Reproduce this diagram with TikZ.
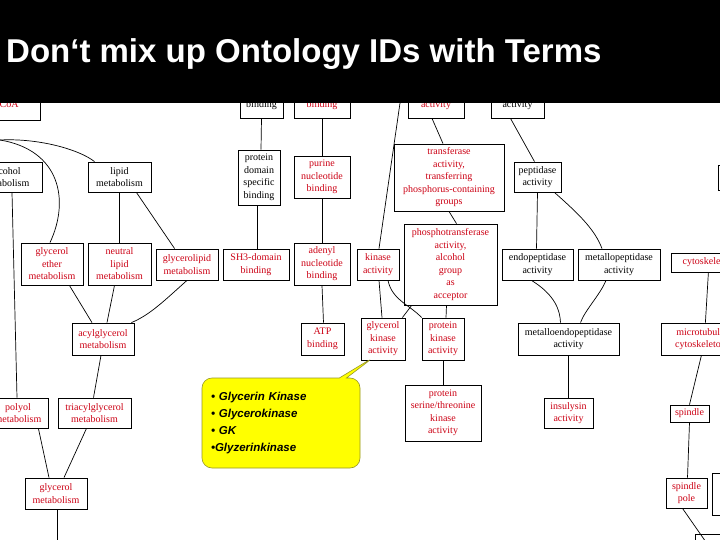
\documentclass[tikz,border=0pt]{standalone}
\usepackage{fontspec}
\setmainfont{Liberation Serif}
\newfontfamily\titlefont{Liberation Sans}
\usetikzlibrary{shapes.callouts}
\definecolor{gored}{RGB}{204,0,20}
\definecolor{callfill}{RGB}{255,255,0}
\definecolor{callline}{RGB}{150,150,40}
\tikzset{
  box/.style={draw=black, line width=0.8pt, inner sep=0pt, align=center,
    font=\fontsize{10}{12.5}\selectfont},
  edge/.style={draw=black, line width=0.7pt}
}
\newcommand\Bx[7]{%
  \node[box, text=#6, minimum width={(#4-#2)*1pt}, minimum height={(#5-#3)*1pt}]
    (#1) at ({(#2+#4)/2},{(#3+#5)/2}) {#7};}
\begin{document}
\begin{tikzpicture}[x=1pt,y=-1pt]
\useasboundingbox (0,0) rectangle (720,540);
\clip (0,0) rectangle (720,540);
\fill[white] (0,0) rectangle (720,540);
% top row (partly hidden)
\Bx{acoa}{-40}{80}{40}{120}{gored}{to\\etyl-CoA}
\Bx{bindA}{240}{92}{283}{118}{black}{binding}
\Bx{bindB}{294}{92}{350}{118}{gored}{binding}
\Bx{actA}{408}{92}{464}{118}{gored}{activity}
\Bx{actB}{491}{92}{544}{118}{black}{activity}
% second row
\Bx{alc}{-30}{162}{42}{192}{black}{alcohol\\metabolism}
\Bx{lipid}{88}{162}{151}{192}{black}{lipid\\metabolism}
\Bx{pdsb}{238}{150}{280}{205}{black}{protein\\domain\\specific\\binding}
\Bx{purine}{294}{156}{350}{198}{gored}{purine\\nucleotide\\binding}
\Bx{transf}{394}{144}{504}{211}{gored}{transferase\\activity,\\transferring\\phosphorus-containing\\groups}
\Bx{pept}{514}{162}{561}{192}{black}{peptidase\\activity}
\Bx{rtop}{718}{165}{760}{190}{black}{}
% third row
\Bx{gether}{21}{243}{83}{285}{gored}{glycerol\\ether\\metabolism}
\Bx{neutral}{88}{243}{151}{285}{gored}{neutral\\lipid\\metabolism}
\Bx{glipid}{156}{249}{218}{280}{gored}{glycerolipid\\metabolism}
\Bx{sh3}{223}{249}{289}{280}{gored}{SH3-domain\\binding}
\Bx{adenyl}{294}{243}{350}{285}{gored}{adenyl\\nucleotide\\binding}
\Bx{kinase}{357}{249}{399}{280}{gored}{kinase\\activity}
\Bx{phosph}{404}{224}{497}{305}{gored}{phosphotransferase\\activity,\\alcohol\\group\\as\\acceptor}
\Bx{endo}{502}{249}{573}{280}{black}{endopeptidase\\activity}
\Bx{metallo}{578}{249}{660}{280}{black}{metallopeptidase\\activity}
\Bx{cyto}{671}{253}{745}{272}{gored}{cytoskeleton}
% fourth row
\Bx{acyl}{72}{323}{134}{355}{gored}{acylglycerol\\metabolism}
\Bx{atp}{301}{323}{344}{355}{gored}{ATP\\binding}
\Bx{gkin}{361}{318}{405}{360}{gored}{glycerol\\kinase\\activity}
\Bx{pkin}{422}{318}{464}{360}{gored}{protein\\kinase\\activity}
\Bx{mendo}{518}{323}{619}{355}{black}{metalloendopeptidase\\activity}
\Bx{micro}{661}{323}{740}{355}{gored}{microtubule\\cytoskeleton}
% fifth row
\Bx{polyol}{-12}{398}{48}{428}{gored}{polyol\\metabolism}
\Bx{triacyl}{58}{398}{131}{428}{gored}{triacylglycerol\\metabolism}
\Bx{serthr}{405}{385}{481}{441}{gored}{protein\\serine/threonine\\kinase\\activity}
\Bx{insul}{544}{398}{593}{428}{gored}{insulysin\\activity}
\Bx{spindle}{670}{405}{709}{422}{gored}{spindle}
% sixth row
\Bx{gmet}{25}{478}{87}{509}{gored}{glycerol\\metabolism}
\Bx{spole}{666}{478}{707}{508}{gored}{spindle\\pole}
\Bx{rbot}{712}{473}{750}{515}{gored}{r}
\Bx{rlast}{695}{534}{750}{560}{black}{}
\coordinate (lefttop) at (0,140);
\coordinate (toptop) at (400,103);
\coordinate (rightin) at (722,228);
\coordinate (gbot) at (57,545);
\coordinate (pbot) at (708,545);
% connectors
\draw[edge] (lefttop) .. controls (40,138) and (80,150) .. ([xshift=-25]lipid.north);
\draw[edge] (lefttop) .. controls (60,150) and (70,200) .. ([xshift=-2]gether.north);
\draw[edge] ([xshift=6]alc.south) -- ([xshift=-1]polyol.north);
\draw[edge] (lipid.south) -- (neutral.north);
\draw[edge] ([xshift=-15]lipid.south east) -- ([xshift=19]glipid.north west);
\draw[edge] ([xshift=-14]gether.south east) -- ([xshift=-11]acyl.north);
\draw[edge] ([xshift=-5]neutral.south) -- ([xshift=4]acyl.north);
\draw[edge] (glipid.south) .. controls (165,300) and (150,315) .. ([xshift=-3]acyl.north east);
\draw[edge] ([xshift=-2]acyl.south) -- ([xshift=-1]triacyl.north);
\draw[edge] ([xshift=-10]polyol.south east) -- ([xshift=-7]gmet.north);
\draw[edge] ([xshift=-8]triacyl.south) -- ([xshift=8]gmet.north);
\draw[edge] ([xshift=1]gmet.south) -- (gbot);
\draw[edge] (bindA.south) -- ([xshift=2]pdsb.north);
\draw[edge] ([xshift=-2]pdsb.south) -- ([xshift=1]sh3.north);
\draw[edge] (bindB.south) -- (purine.north);
\draw[edge] (purine.south) -- (adenyl.north);
\draw[edge] (adenyl.south) -- ([xshift=1]atp.north);
\draw[edge] ([xshift=-4]actA.south) -- ([xshift=-6]transf.north);
\draw[edge] ([xshift=6]phosph.north) -- ([xshift=0]transf.south);
\draw[edge] (toptop) -- ([xshift=1]kinase.north);
\draw[edge] ([xshift=1]kinase.south) -- ([xshift=-1]gkin.north);
\draw[edge] ([xshift=10]kinase.south) .. controls (392,300) and (410,305) .. (pkin.north west);
\draw[edge] ([xshift=8]phosph.south west) -- ([xshift=-3]gkin.north east);
\draw[edge] ([xshift=-4]phosph.south) -- ([xshift=3]pkin.north);
\draw[edge] (pkin.south) -- (serthr.north);
\draw[edge] ([xshift=-7]actB.south) -- ([xshift=-3]pept.north);
\draw[edge] (pept.south) -- ([xshift=-1]endo.north);
\draw[edge] ([xshift=-7]pept.south east) .. controls (580,215) and (595,230) .. ([xshift=-17]metallo.north);
\draw[edge] ([xshift=-6]endo.south) .. controls (555,295) and (560,310) .. ([xshift=-8]mendo.north);
\draw[edge] ([xshift=-13]metallo.south) .. controls (600,295) and (585,310) .. ([xshift=12]mendo.north);
\draw[edge] (mendo.south) -- (insul.north);
\draw[edge] (rightin) -- ([xshift=-23]cyto.north east);
\draw[edge] ([xshift=-37]cyto.south east) -- ([xshift=-35]micro.north east);
\draw[edge] ([xshift=-39]micro.south east) -- ([xshift=0]spindle.north);
\draw[edge] (spindle.south) -- ([xshift=1]spole.north);
\draw[edge] ([xshift=-4]spole.south) -- (pbot);
% callout
\node[rectangle callout, rounded corners=10pt, fill=callfill, draw=callline, line width=0.6pt,
  minimum width=158pt, minimum height=90pt, inner sep=0pt,
  callout absolute pointer={(374,357)}, text width=140pt, align=left,
  font=\titlefont\fontsize{11.5}{17}\selectfont\bfseries\itshape]
  (call) at (281,423) {\textbullet\ Glycerin Kinase\\\textbullet\ Glycerokinase\\\textbullet\ GK\\\textbullet Glyzerinkinase};
% title bar
\fill[black] (0,0) rectangle (720,103);
\node[text=white, anchor=west, inner sep=0pt, font=\titlefont\bfseries\fontsize{33}{37}\selectfont]
  (title) at (6,54) {Don‘t mix up Ontology IDs with Terms};
\end{tikzpicture}
\end{document}
